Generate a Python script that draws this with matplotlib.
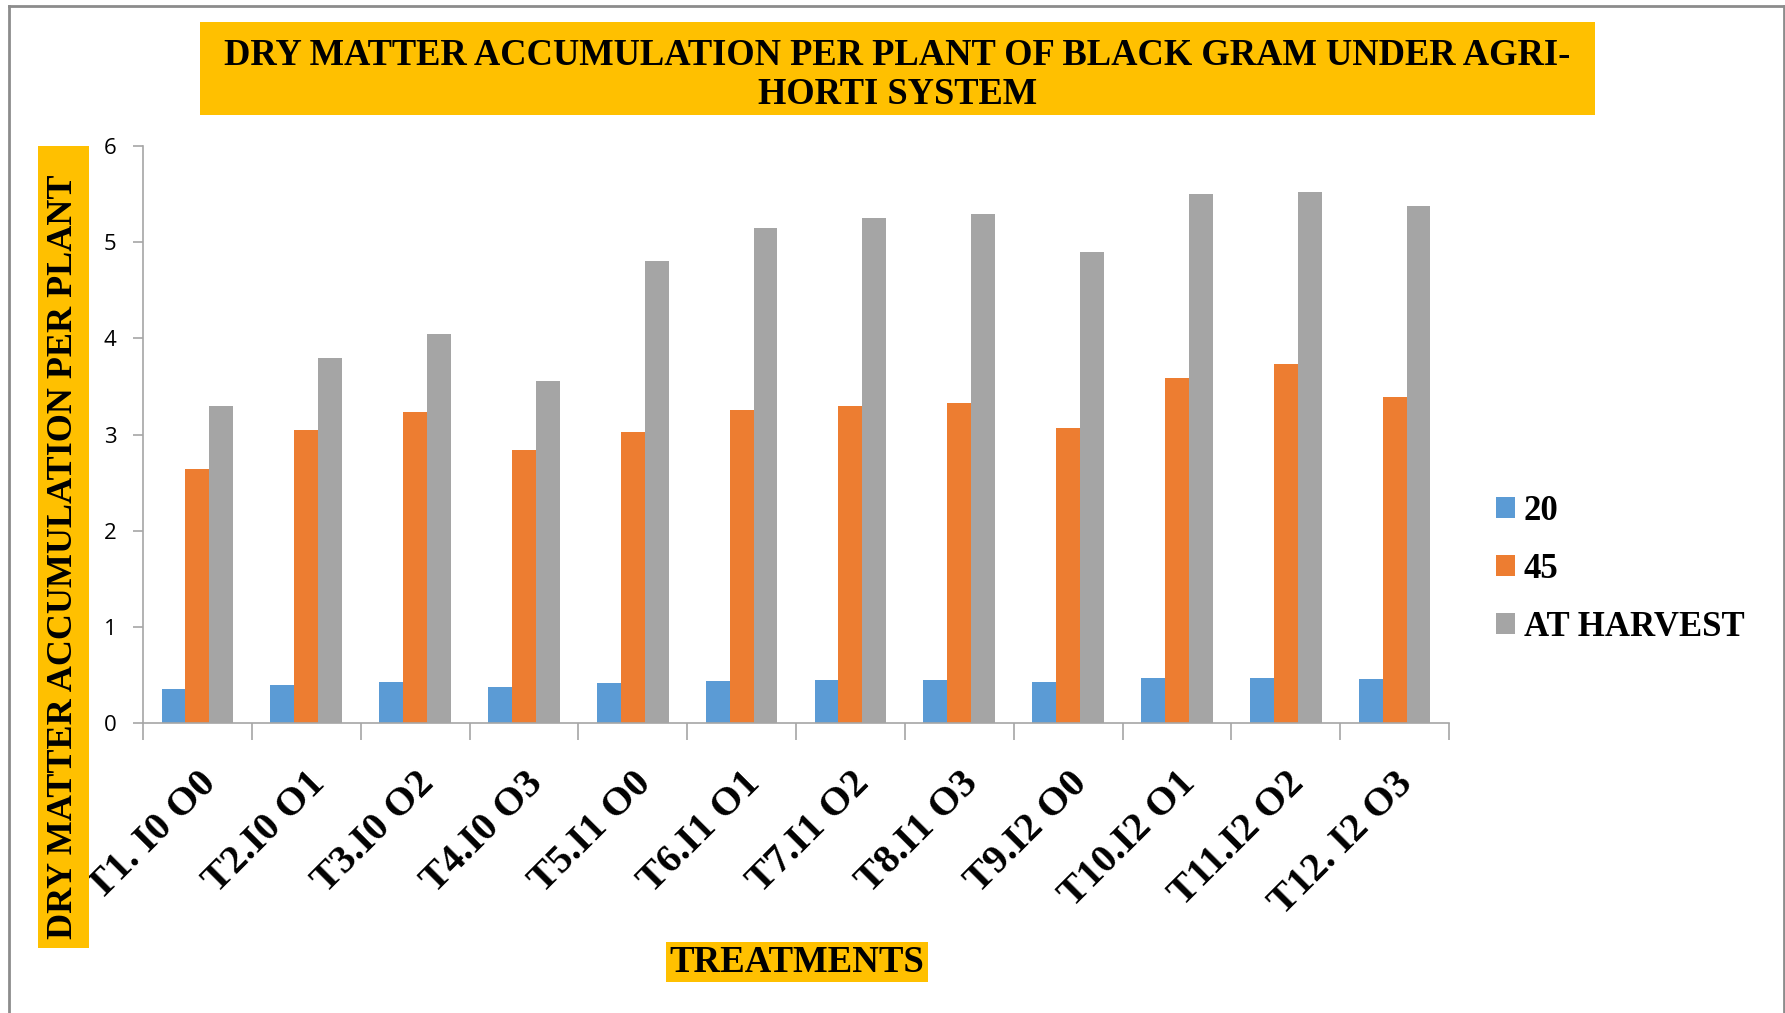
import matplotlib
matplotlib.use("Agg")
import matplotlib.pyplot as plt
import numpy as np
from matplotlib.patches import Rectangle
from matplotlib.lines import Line2D

# treatments and dry matter per plant (g) at each sampling stage
treatments = ['T1. I0 O0', 'T2.I0 O1', 'T3.I0 O2', 'T4.I0 O3',
              'T5.I1 O0', 'T6.I1 O1', 'T7.I1 O2', 'T8.I1 O3',
              'T9.I2 O0', 'T10.I2 O1', 'T11.I2 O2', 'T12. I2 O3']
dm_20 = [0.35, 0.40, 0.43, 0.37, 0.42, 0.44, 0.45, 0.45, 0.43, 0.47, 0.47, 0.46]
dm_45 = [2.64, 3.05, 3.23, 2.84, 3.03, 3.25, 3.30, 3.33, 3.07, 3.59, 3.73, 3.39]
dm_harvest = [3.30, 3.80, 4.04, 3.56, 4.80, 5.15, 5.25, 5.29, 4.90, 5.50, 5.52, 5.38]
series_names = ['20', '45', 'AT HARVEST']

colors = ['#5B9BD5', '#ED7D31', '#A5A5A5']
yellow = '#FFC000'
axis_gray = '#A6A6A6'
serif = 'Liberation Serif'

W, H = 1785, 1013
fig = plt.figure(figsize=(W / 100, H / 100), dpi=100)
fig.patch.set_facecolor('white')

ax = fig.add_axes([143 / W, 1 - 723 / H, (1449 - 143) / W, (723 - 146) / H])

x = np.arange(len(treatments))
bw = 0.22
for k, vals in enumerate([dm_20, dm_45, dm_harvest]):
    ax.bar(x + (k - 1) * bw, vals, bw, color=colors[k], label=series_names[k], zorder=2)

ax.set_xlim(-0.5, len(treatments) - 0.5)
ax.set_ylim(0, 6)
ax.set_yticks(range(0, 7))
ax.set_yticklabels([str(v) for v in range(0, 7)], fontfamily='Open Sans', fontsize=16)
ax.tick_params(axis='y', length=7, width=1.2, color=axis_gray, pad=12,
               labelcolor='black')

# category boundary ticks on x axis, labels placed separately
ax.set_xticks(np.arange(-0.5, len(treatments)), [''] * (len(treatments) + 1))
ax.tick_params(axis='x', length=12, width=1.2, color=axis_gray)
for i, t in enumerate(treatments):
    ax.annotate(t, (x[i], 0), xycoords=('data', 'axes fraction'),
                xytext=(0, -42), textcoords='offset pixels',
                rotation=45, rotation_mode='anchor', ha='right', va='top',
                fontsize=29, fontweight='bold', family=serif)

for s in ['top', 'right']:
    ax.spines[s].set_visible(False)
for s in ['left', 'bottom']:
    ax.spines[s].set_color(axis_gray)
    ax.spines[s].set_linewidth(1.2)

# legend
leg = ax.legend(loc='center left', bbox_to_anchor=(1.012, 0.266), frameon=False,
                prop={'family': serif, 'weight': 'bold', 'size': 25},
                handlelength=0.55, handleheight=0.55, handletextpad=0.25,
                labelspacing=0.72)

# title box
fig.patches.append(Rectangle((200 / W, 1 - 115.5 / H), (1595 - 200) / W, (115.5 - 22) / H,
                             transform=fig.transFigure, facecolor=yellow, edgecolor='none'))
fig.text(897.5 / W, 1 - 75 / H,
         'DRY MATTER ACCUMULATION PER PLANT OF BLACK GRAM UNDER AGRI-\nHORTI SYSTEM',
         ha='center', va='center', fontsize=26.3, fontweight='bold', family=serif,
         linespacing=1.12)

# y axis title box
fig.patches.append(Rectangle((38 / W, 1 - 948 / H), (89 - 38) / W, (948 - 146) / H,
                             transform=fig.transFigure, facecolor=yellow, edgecolor='none'))
fig.text(64 / W, 1 - 557 / H, 'DRY MATTER ACCUMULATION PER PLANT', rotation=90,
         ha='center', va='center', fontsize=26, fontweight='bold', family=serif)

# x axis title box
fig.patches.append(Rectangle((666 / W, 1 - 982 / H), (928 - 666) / W, (982 - 942) / H,
                             transform=fig.transFigure, facecolor=yellow, edgecolor='none'))
fig.text(797 / W, 1 - 962 / H, 'TREATMENTS', ha='center', va='center',
         fontsize=26.5, fontweight='bold', family=serif)

# outer frame (no bottom edge)
frame_kw = dict(transform=fig.transFigure, color='#8C8C8C', linewidth=2)
fig.lines.append(Line2D([9 / W, 1784 / W], [1 - 6 / H, 1 - 6 / H], **frame_kw))
fig.lines.append(Line2D([9 / W, 9 / W], [0, 1 - 6 / H], **frame_kw))
fig.lines.append(Line2D([1784 / W, 1784 / W], [0, 1 - 6 / H], **frame_kw))

fig.savefig('out.png', dpi=100)
